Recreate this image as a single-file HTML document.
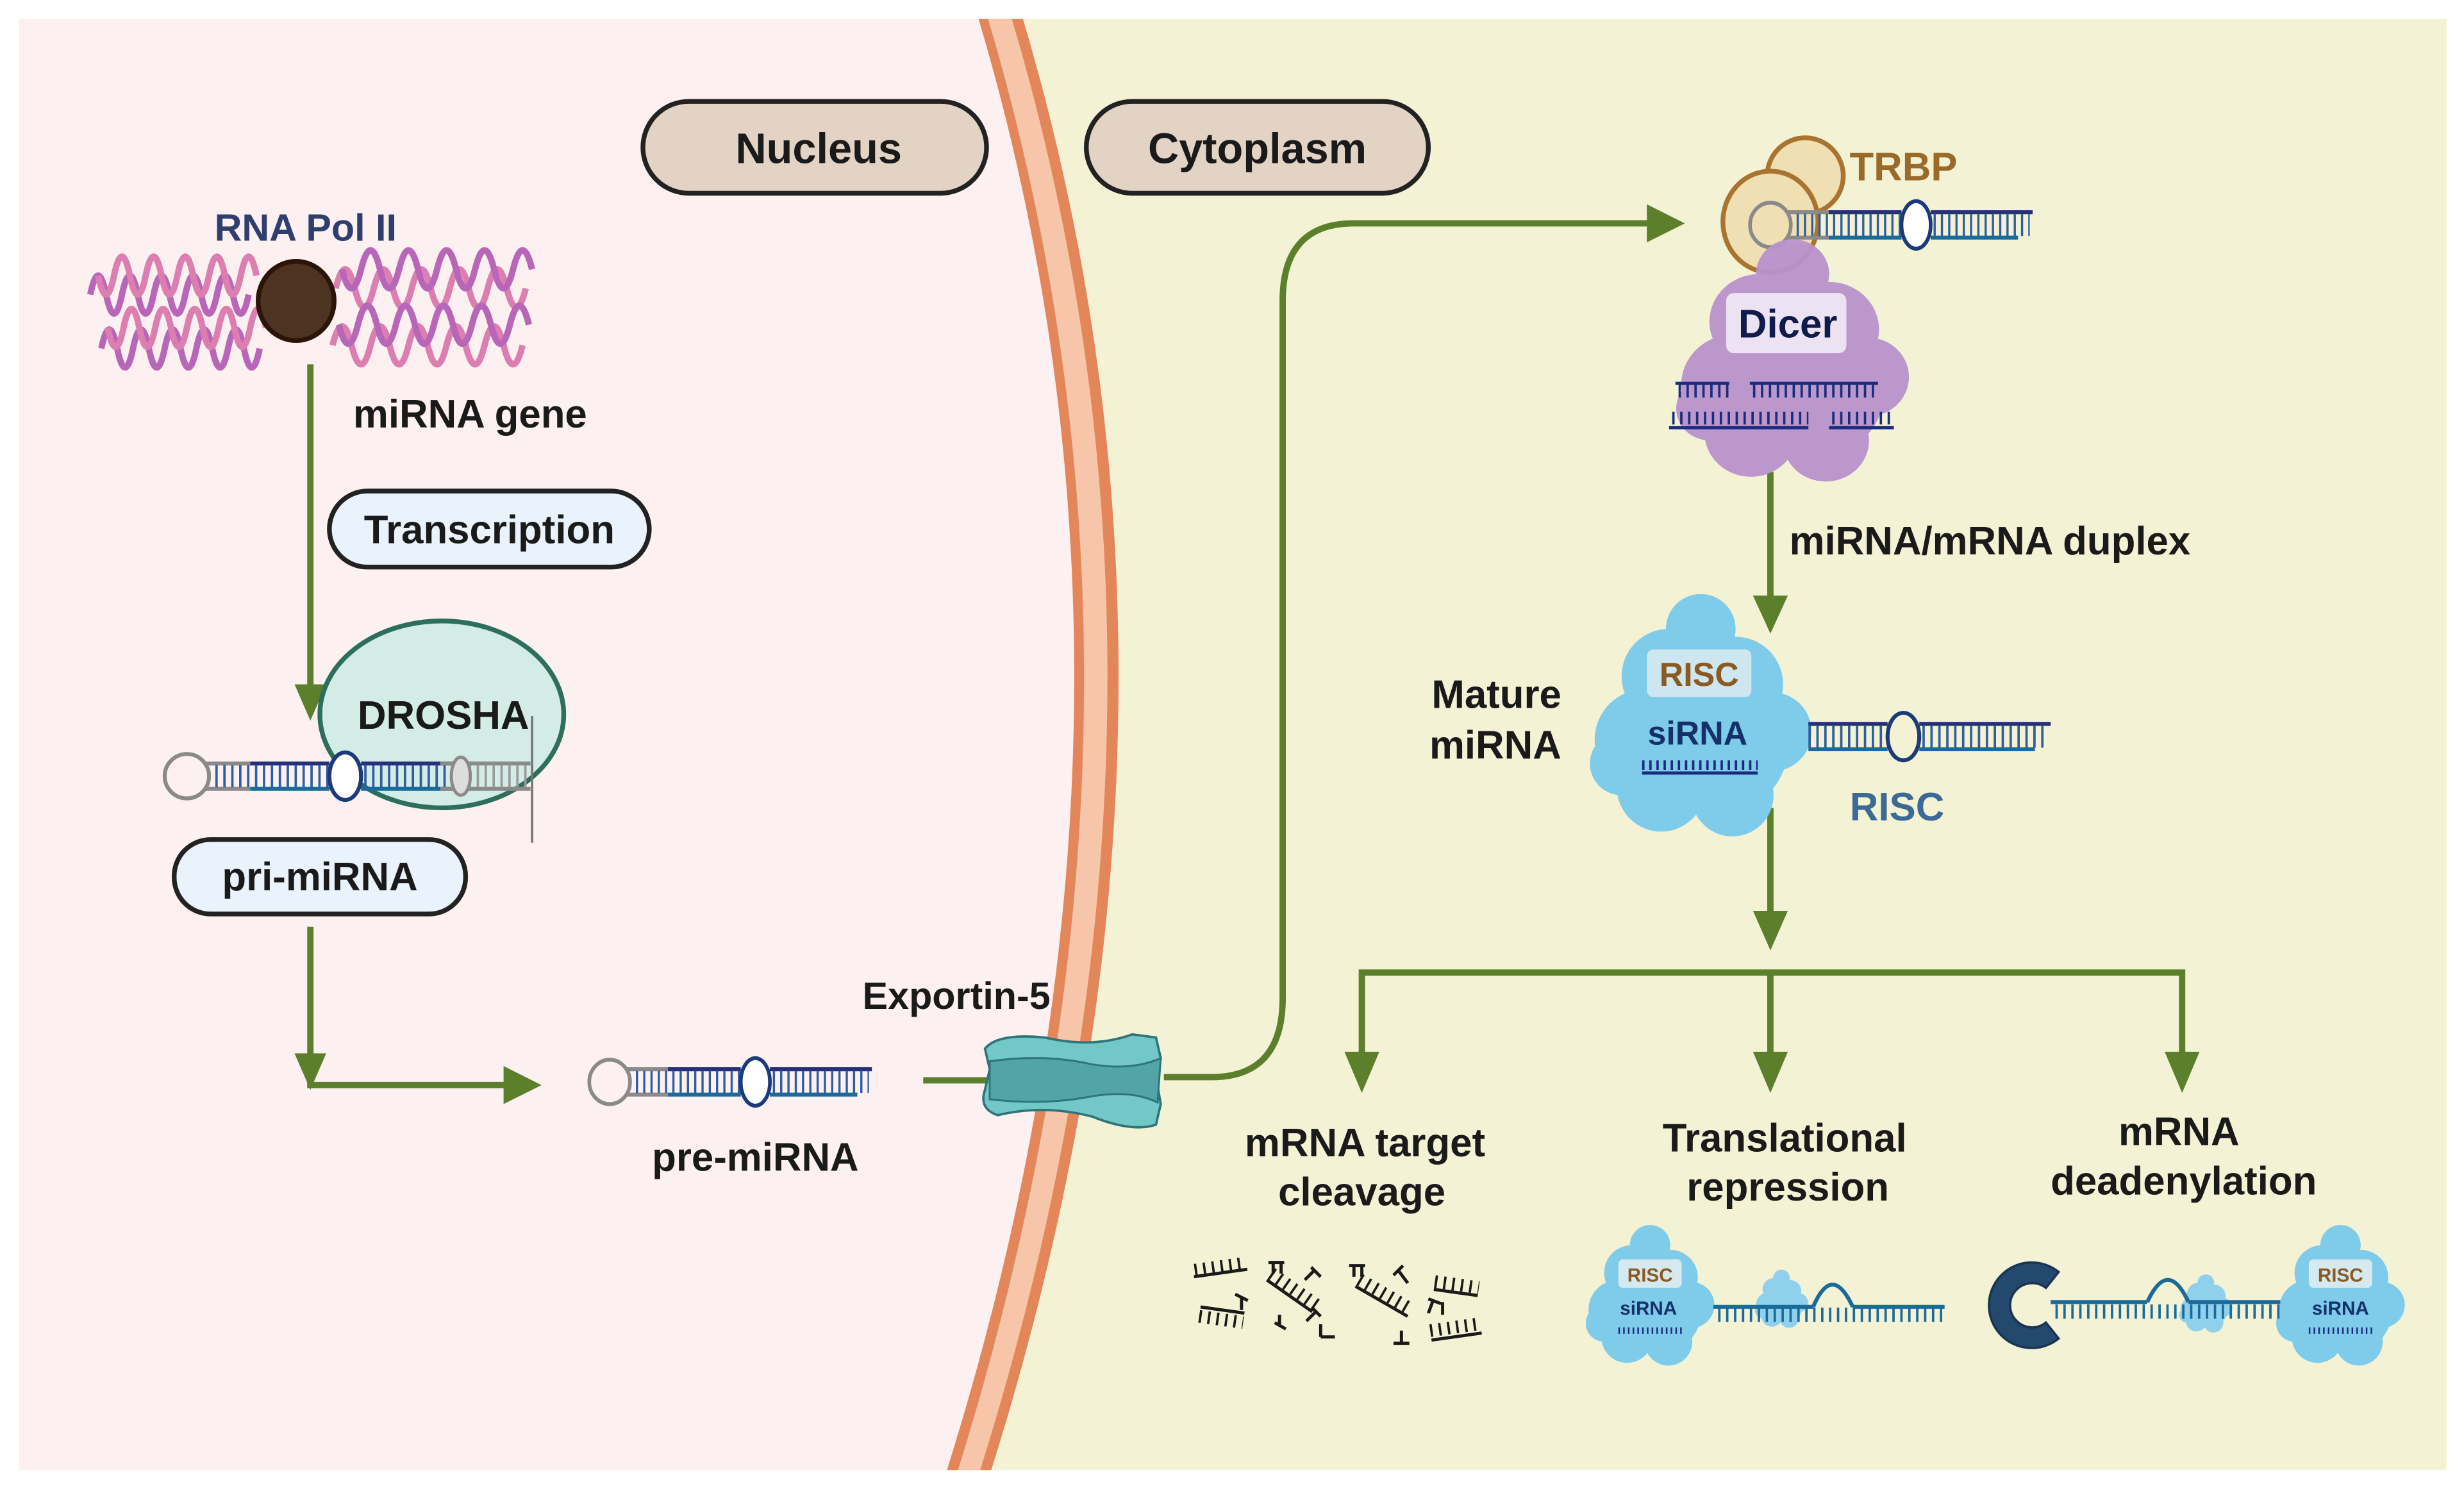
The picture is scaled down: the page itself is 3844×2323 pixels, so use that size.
<!DOCTYPE html>
<html><head><meta charset="utf-8"><style>
html,body{margin:0;padding:0;background:#fff;}
svg{display:block;}
text{font-family:"Liberation Sans",Arial,sans-serif;font-weight:bold;}
</style></head><body>
<svg width="3844" height="2323" viewBox="0 0 1556 940" preserveAspectRatio="none" xmlns="http://www.w3.org/2000/svg">
<defs>
<g id="hp">
 <circle cx="0" cy="0" r="14" fill="none" stroke="#8a8a8a" stroke-width="2.5"/>
 <line x1="12" y1="-8" x2="40" y2="-8" stroke="#8a8a8a" stroke-width="2.5"/>
 <line x1="12" y1="8" x2="40" y2="8" stroke="#8a8a8a" stroke-width="2.5"/>
 <line x1="40" y1="-8" x2="90" y2="-8" stroke="#26307a" stroke-width="2.5"/>
 <line x1="40" y1="8" x2="90" y2="8" stroke="#1a6a9a" stroke-width="2.5"/>
 <line x1="18" y1="0" x2="90" y2="0" stroke="#2f5d9e" stroke-width="14" stroke-dasharray="1.5 3.5"/>
 <ellipse cx="100" cy="0" rx="10" ry="15" fill="#fff" stroke="#1c3a7a" stroke-width="2.5"/>
 <line x1="110" y1="-8" x2="180" y2="-8" stroke="#26307a" stroke-width="2.5"/>
 <line x1="110" y1="8" x2="170" y2="8" stroke="#1a6a9a" stroke-width="2.5"/>
 <line x1="112" y1="0" x2="178" y2="0" stroke="#2f5d9e" stroke-width="14" stroke-dasharray="1.5 3.5"/>
</g>
<g id="blob">
 <circle cx="0" cy="-55" r="22"/><circle cx="-20" cy="-25" r="30"/><circle cx="22" cy="-20" r="30"/>
 <circle cx="-35" cy="15" r="32"/><circle cx="15" cy="20" r="40"/><circle cx="45" cy="10" r="25"/>
 <circle cx="-25" cy="45" r="28"/><circle cx="20" cy="50" r="26"/><circle cx="-50" cy="30" r="20"/>
</g>
</defs>
<rect x="0" y="0" width="1556" height="940" fill="#fff"/>
<rect x="12" y="12" width="1533" height="916" fill="#fdf0f0"/>
<path d="M630,12 Q760,450 612,928 L1545,928 L1545,12 Z" fill="#f4f2d5"/>
<path d="M618,12 Q748,450 598,928 L626,928 Q776,450 646,12 Z" fill="#e3875a"/>
<path d="M624,12 Q754,450 605,928 L619,928 Q769,450 639,12 Z" fill="#f6c5aa"/>

<rect x="406" y="64" width="217" height="58" rx="29" fill="#e3d3c5" stroke="#222" stroke-width="3"/>
<text x="517" y="103" font-size="27" text-anchor="middle" fill="#1a1a1a">Nucleus</text>
<rect x="686" y="64" width="216" height="58" rx="29" fill="#e3d3c5" stroke="#222" stroke-width="3"/>
<text x="794" y="103" font-size="27" text-anchor="middle" fill="#1a1a1a">Cytoplasm</text>

<text x="193" y="152" font-size="24" text-anchor="middle" fill="#2e3f6e">RNA Pol II</text>
<g fill="none" stroke-width="4">
 <path d="M57,186 q5,-24 10,0 t10,0 t10,0 t10,0 t10,0 t10,0 t10,0 t10,0 t10,0 t10,0" stroke="#b866b8"/>
 <path d="M62,174 q5,24 10,0 t10,0 t10,0 t10,0 t10,0 t10,0 t10,0 t10,0 t10,0 t10,0" stroke="#dc7fb0"/>
 <path d="M212,182 q6,-24 12,0 t12,0 t12,0 t12,0 t12,0 t12,0 t12,0 t12,0 t12,0 t12,0" stroke="#dc7fb0"/>
 <path d="M216,170 q6,24 12,0 t12,0 t12,0 t12,0 t12,0 t12,0 t12,0 t12,0 t12,0 t12,0" stroke="#b866b8"/>
 <path d="M64,220 q5,-24 10,0 t10,0 t10,0 t10,0 t10,0 t10,0 t10,0 t10,0 t10,0 t10,0" stroke="#b866b8"/>
 <path d="M68,207 q5,24 10,0 t10,0 t10,0 t10,0 t10,0 t10,0 t10,0 t10,0 t10,0 t10,0" stroke="#dc7fb0"/>
 <path d="M210,218 q6,-24 12,0 t12,0 t12,0 t12,0 t12,0 t12,0 t12,0 t12,0 t12,0 t12,0" stroke="#dc7fb0"/>
 <path d="M214,205 q6,24 12,0 t12,0 t12,0 t12,0 t12,0 t12,0 t12,0 t12,0 t12,0 t12,0" stroke="#b866b8"/>
</g>
<ellipse cx="187" cy="190" rx="24" ry="25" fill="#4d3322" stroke="#2a1508" stroke-width="3"/>

<g stroke="#5b7f2a" stroke-width="4" fill="none">
 <line x1="196" y1="230" x2="196" y2="435"/>
 <line x1="196" y1="585" x2="196" y2="685"/>
 <line x1="194" y1="685" x2="322" y2="685"/>
 <line x1="583" y1="682" x2="625" y2="682"/>
 <path d="M735,680 H765 Q810,680 810,630 V190 Q810,141 855,141 H1045"/>
 <line x1="1118" y1="298" x2="1118" y2="380"/>
 <line x1="1118" y1="510" x2="1118" y2="580"/>
 <path d="M860,668 V614 H1378 V668"/>
 <line x1="1118" y1="614" x2="1118" y2="668"/>
</g>
<g fill="#5b7f2a">
 <path d="M186,432 L206,432 L196,455 Z"/>
 <path d="M186,665 L206,665 L196,688 Z"/>
 <path d="M318,673 L318,697 L342,685 Z"/>
 <path d="M1040,129 L1040,153 L1064,141 Z"/>
 <path d="M1107,376 L1129,376 L1118,400 Z"/>
 <path d="M1107,575 L1129,575 L1118,600 Z"/>
 <path d="M849,664 L871,664 L860,690 Z"/>
 <path d="M1107,664 L1129,664 L1118,690 Z"/>
 <path d="M1367,664 L1389,664 L1378,690 Z"/>
</g>

<text x="223" y="270" font-size="25" fill="#1a1a1a">miRNA gene</text>
<rect x="208" y="310" width="202" height="48" rx="24" fill="#eaf2fb" stroke="#222" stroke-width="3"/>
<text x="309" y="343" font-size="25" text-anchor="middle" fill="#1a1a1a">Transcription</text>

<ellipse cx="279" cy="451" rx="77" ry="59" fill="#d3ece6" stroke="#2d6e5c" stroke-width="3"/>
<text x="280" y="460" font-size="25" text-anchor="middle" fill="#1a1a1a">DROSHA</text>
<g transform="translate(118,490)">
 <use href="#hp"/>
 <line x1="160" y1="-8" x2="217" y2="-8" stroke="#8a8a8a" stroke-width="2.5"/>
 <line x1="160" y1="8" x2="217" y2="8" stroke="#8a8a8a" stroke-width="2.5"/>
 <line x1="178" y1="0" x2="216" y2="0" stroke="#9a9a9a" stroke-width="14" stroke-dasharray="1.5 3.5"/>
 <ellipse cx="173" cy="0" rx="6" ry="12" fill="#ddd" stroke="#8a8a8a" stroke-width="2"/>
</g>
<line x1="336" y1="452" x2="336" y2="532" stroke="#777" stroke-width="1.5"/>
<rect x="110" y="530" width="184" height="47" rx="23" fill="#eaf2fb" stroke="#222" stroke-width="3"/>
<text x="202" y="562" font-size="25" text-anchor="middle" fill="#1a1a1a">pri-miRNA</text>

<g transform="translate(385,683) scale(0.92,1)"><use href="#hp"/></g>
<text x="477" y="739" font-size="25" text-anchor="middle" fill="#1a1a1a">pre-miRNA</text>
<text x="604" y="637" font-size="24" text-anchor="middle" fill="#1a1a1a">Exportin-5</text>

<path d="M622,662 Q630,652 660,655 Q690,662 715,653 L730,655 L733,668 L730,680 L733,697 L730,710 Q715,715 690,705 Q660,697 630,704 Q618,700 622,688 L625,675 Z" fill="#72c7c7" stroke="#2e7479" stroke-width="1.5"/>
<path d="M625,670 Q660,665 690,672 Q715,676 733,668 L731,696 Q715,688 690,692 Q660,698 625,694 Z" fill="#53a4a6" stroke="#2e7479" stroke-width="1.2"/>

<circle cx="1140" cy="111" r="24" fill="#efdfb3" stroke="#a8742f" stroke-width="3"/>
<ellipse cx="1118" cy="140" rx="30" ry="32" fill="#efdfb3" stroke="#a8742f" stroke-width="3"/>
<text x="1168" y="114" font-size="25" fill="#9a6a2a">TRBP</text>
<g transform="translate(1118,142) scale(0.92,1)"><use href="#hp"/></g>
<g fill="#b993cc" opacity="0.95" transform="translate(1132,228) scale(1.05,1)"><use href="#blob"/></g>
<rect x="1090" y="185" width="76" height="38" rx="5" fill="#ece2f2"/>
<text x="1129" y="213" font-size="25" text-anchor="middle" fill="#0d1c4a">Dicer</text>
<g stroke="#1b2c7f" stroke-width="2" fill="none">
 <line x1="1058" y1="242" x2="1092" y2="242"/><line x1="1060" y1="247" x2="1092" y2="247" stroke-width="8" stroke-dasharray="1.5 3.5"/>
 <line x1="1105" y1="242" x2="1186" y2="242"/><line x1="1107" y1="247" x2="1186" y2="247" stroke-width="8" stroke-dasharray="1.5 3.5"/>
 <line x1="1054" y1="270" x2="1142" y2="270"/><line x1="1056" y1="264" x2="1142" y2="264" stroke-width="8" stroke-dasharray="1.5 3.5"/>
 <line x1="1155" y1="270" x2="1196" y2="270"/><line x1="1157" y1="264" x2="1196" y2="264" stroke-width="8" stroke-dasharray="1.5 3.5"/>
</g>
<text x="1130" y="350" font-size="25" fill="#1a1a1a">miRNA/mRNA duplex</text>

<g fill="#7ecbea" transform="translate(1074,452)"><use href="#blob"/></g>
<g transform="translate(1152,465)">
 <line x1="-10" y1="-8" x2="40" y2="-8" stroke="#26307a" stroke-width="2.5"/>
 <line x1="-10" y1="8" x2="40" y2="8" stroke="#1a6a9a" stroke-width="2.5"/>
 <line x1="-10" y1="0" x2="40" y2="0" stroke="#2f5d9e" stroke-width="14" stroke-dasharray="1.5 3.5"/>
 <ellipse cx="50" cy="0" rx="10" ry="15" fill="#f4f2d5" stroke="#1c3a7a" stroke-width="2.5"/>
 <line x1="60" y1="-8" x2="143" y2="-8" stroke="#26307a" stroke-width="2.5"/>
 <line x1="60" y1="8" x2="133" y2="8" stroke="#1a6a9a" stroke-width="2.5"/>
 <line x1="62" y1="0" x2="141" y2="0" stroke="#2f5d9e" stroke-width="14" stroke-dasharray="1.5 3.5"/>
</g>
<rect x="1040" y="410" width="66" height="30" rx="4" fill="#d6e9ef" opacity="0.9"/>
<text x="1073" y="433" font-size="21" text-anchor="middle" fill="#8a5a22">RISC</text>
<text x="1072" y="470" font-size="21" text-anchor="middle" fill="#16306a" font-weight="normal">siRNA</text>
<line x1="1037" y1="483" x2="1110" y2="483" stroke="#1b2c7f" stroke-width="6" stroke-dasharray="1.5 3"/>
<line x1="1037" y1="488" x2="1110" y2="488" stroke="#1b2c7f" stroke-width="2"/>
<text x="1198" y="518" font-size="25" text-anchor="middle" fill="#3a6a95">RISC</text>
<text x="986" y="447" font-size="25" text-anchor="end" fill="#1a1a1a">Mature</text>
<text x="986" y="479" font-size="25" text-anchor="end" fill="#1a1a1a">miRNA</text>

<g font-size="25" text-anchor="middle" fill="#1a1a1a">
 <text x="862" y="730">mRNA target</text><text x="860" y="761">cleavage</text>
 <text x="1127" y="727">Translational</text><text x="1129" y="758">repression</text>
 <text x="1376" y="723">mRNA</text><text x="1379" y="754">deadenylation</text>
</g>
<g stroke="#1a1a1a" stroke-width="2" fill="none">
 <g transform="translate(754,806) rotate(-8)"><line x1="0" y1="0" x2="34" y2="0"/><line x1="1" y1="-4" x2="34" y2="-4" stroke-width="8" stroke-dasharray="1.5 4"/></g>
 <g transform="translate(757,833) rotate(8)"><line x1="0" y1="-8" x2="28" y2="-8"/><line x1="0" y1="-2" x2="28" y2="-2" stroke-width="8" stroke-dasharray="1.5 4"/></g>
 <g transform="translate(800,808) rotate(35)"><line x1="0" y1="0" x2="35" y2="0"/><line x1="0" y1="-5" x2="35" y2="-5" stroke-width="8" stroke-dasharray="1.5 4"/></g>
 <g transform="translate(856,812) rotate(30)"><line x1="0" y1="0" x2="38" y2="0"/><line x1="0" y1="-5" x2="38" y2="-5" stroke-width="8" stroke-dasharray="1.5 4"/></g>
 <g transform="translate(906,810) rotate(8)"><line x1="0" y1="4" x2="28" y2="4"/><line x1="0" y1="-1" x2="28" y2="-1" stroke-width="8" stroke-dasharray="1.5 4"/></g>
 <g transform="translate(904,846) rotate(-8)"><line x1="0" y1="0" x2="32" y2="0"/><line x1="0" y1="-6" x2="32" y2="-6" stroke-width="8" stroke-dasharray="1.5 4"/></g>
 <path d="M801,797 h10 M804,797 v7 M809,797 v7 M852,799 h10 M855,799 v7 M860,799 v7 M780,817 l8,4 M784,819 v8 M828,800 l6,6 M830,802 l-6,6 M880,805 l6,-6 M883,802 l6,8 M805,835 l7,4 M808,837 v-7 M834,844 v-8 M834,844 h9 M880,848 h10 M885,848 v-8 M902,820 l8,3 M905,821 l-3,8 M829,826 l5,5 M831,828 l-6,6 M911,822 v8"/>
</g>
<g fill="#7ecbea" transform="translate(1042,818) scale(0.58)"><use href="#blob"/></g>
<g fill="#8fd1ec" transform="translate(1125,820) scale(0.24)"><use href="#blob"/></g>
<path d="M1082,825 H1145 M1170,825 H1228" stroke="#1a6a9a" stroke-width="2.5" fill="none"/>
<path d="M1145,825 q12,-28 25,0" stroke="#1a6a9a" stroke-width="2.5" fill="none"/>
<line x1="1085" y1="830" x2="1228" y2="830" stroke="#1a6a9a" stroke-width="9" stroke-dasharray="1.5 3.5"/>
<rect x="1022" y="795" width="40" height="18" rx="3" fill="#d6e9ef"/>
<text x="1042" y="809" font-size="12" text-anchor="middle" fill="#8a5a22" font-weight="normal">RISC</text>
<text x="1041" y="830" font-size="12" text-anchor="middle" fill="#16306a" font-weight="normal">siRNA</text>
<line x1="1022" y1="840" x2="1062" y2="840" stroke="#1b2c7f" stroke-width="4" stroke-dasharray="1 2"/>
<path d="M1300,803 A27,27 0 1,0 1300,845 L1292,835 A14,14 0 1,1 1292,813 Z" fill="#24496e" stroke="#1a3552" stroke-width="1.5"/>
<g fill="#7ecbea" transform="translate(1478,818) scale(0.58)"><use href="#blob"/></g>
<g fill="#8fd1ec" transform="translate(1393,823) scale(0.24)"><use href="#blob"/></g>
<path d="M1295,822 H1356 M1382,822 H1440" stroke="#1a6a9a" stroke-width="2.5" fill="none"/>
<path d="M1356,822 q13,-28 26,0" stroke="#1a6a9a" stroke-width="2.5" fill="none"/>
<line x1="1298" y1="828" x2="1440" y2="828" stroke="#1a6a9a" stroke-width="9" stroke-dasharray="1.5 3.5"/>
<rect x="1458" y="795" width="40" height="18" rx="3" fill="#d6e9ef"/>
<text x="1478" y="809" font-size="12" text-anchor="middle" fill="#8a5a22" font-weight="normal">RISC</text>
<text x="1478" y="830" font-size="12" text-anchor="middle" fill="#16306a" font-weight="normal">siRNA</text>
<line x1="1458" y1="840" x2="1500" y2="840" stroke="#1b2c7f" stroke-width="4" stroke-dasharray="1 2"/>
</svg>
</body></html>
